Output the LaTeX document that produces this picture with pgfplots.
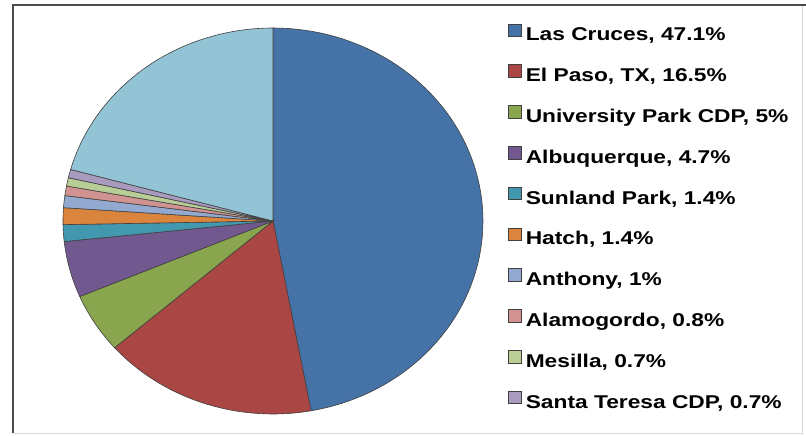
\documentclass[border=0pt]{standalone}
\usepackage{fontspec}
\setmainfont{Liberation Sans}[FakeStretch=1.23]
\usepackage{pgfplots}
\pgfplotsset{compat=1.18}

\definecolor{cLC}{HTML}{4572A7}
\definecolor{cEP}{HTML}{AA4643}
\definecolor{cUP}{HTML}{89A54E}
\definecolor{cAB}{HTML}{71588F}
\definecolor{cSP}{HTML}{4198AF}
\definecolor{cHA}{HTML}{DB843D}
\definecolor{cAN}{HTML}{93A9CF}
\definecolor{cAL}{HTML}{D19392}
\definecolor{cME}{HTML}{B9CD96}
\definecolor{cST}{HTML}{A99BBD}
\definecolor{cOT}{HTML}{93C4D6}

% one wedge: value (percent), colour, legend text; clockwise from 12 o'clock
\gdef\cum{0}
\newcommand\slice[3]{%
  \pgfmathsetmacro\sa{90-3.6*(\cum+#1)}%
  \pgfmathsetmacro\sb{90-3.6*\cum}%
  \pgfmathsetmacro\cumnew{\cum+#1}%
  \xdef\cum{\cumnew}%
  \edef\doslice{\noexpand\addplot[wedge, fill=#2, domain=\sa:\sb]}%
  \doslice ({cos(x)},{sin(x)}) -- (0,0) -- cycle;
  \addlegendentry{#3}%
}

\begin{document}
\begin{tikzpicture}
\useasboundingbox (0,0) rectangle (806pt,436pt);
\fill[white] (0,0) rectangle (806pt,436pt);
\draw[black!15] (13pt,3pt) -- (802pt,3pt) -- (802pt,431pt);
\draw[black!70, line width=1.6pt] (13pt,3pt) -- (13pt,431pt) -- (806pt,431pt);
\begin{axis}[
  at={(63pt,22pt)}, anchor=south west,
  scale only axis, width=420pt, height=386pt,
  xmin=-1, xmax=1, ymin=-1, ymax=1,
  hide axis, clip=false,
  wedge/.style={draw=black!75, line width=0.6pt, samples=80},
  legend cell align=left,
  legend image code/.code={\draw[#1, draw=black!75, line width=0.6pt] (0pt,-0.5pt) rectangle (13pt,12pt);},
  legend style={at={(axis description cs:1.0595,1.0117)}, anchor=north west,
    draw=none, fill=none, inner sep=0pt, row sep=19.5pt,
    font=\fontsize{18.5}{20}\selectfont\bfseries,
    nodes={inner sep=0pt, text height=14pt, text depth=4pt},
    /tikz/every odd column/.append style={column sep=4pt}},
]
\slice{47.1}{cLC}{Las Cruces, 47.1\%}
\slice{16.5}{cEP}{El Paso, TX, 16.5\%}
\slice{5}{cUP}{University Park CDP, 5\%}
\slice{4.7}{cAB}{Albuquerque, 4.7\%}
\slice{1.4}{cSP}{Sunland Park, 1.4\%}
\slice{1.4}{cHA}{Hatch, 1.4\%}
\slice{1}{cAN}{Anthony, 1\%}
\slice{0.8}{cAL}{Alamogordo, 0.8\%}
\slice{0.7}{cME}{Mesilla, 0.7\%}
\slice{0.7}{cST}{Santa Teresa CDP, 0.7\%}
% remainder, not in the legend
\pgfmathsetmacro\sb{90-3.6*\cum}
\edef\doslice{\noexpand\addplot[wedge, fill=cOT, forget plot, domain=-270:\sb]}
\doslice ({cos(x)},{sin(x)}) -- (0,0) -- cycle;
\end{axis}
\end{tikzpicture}
\end{document}
